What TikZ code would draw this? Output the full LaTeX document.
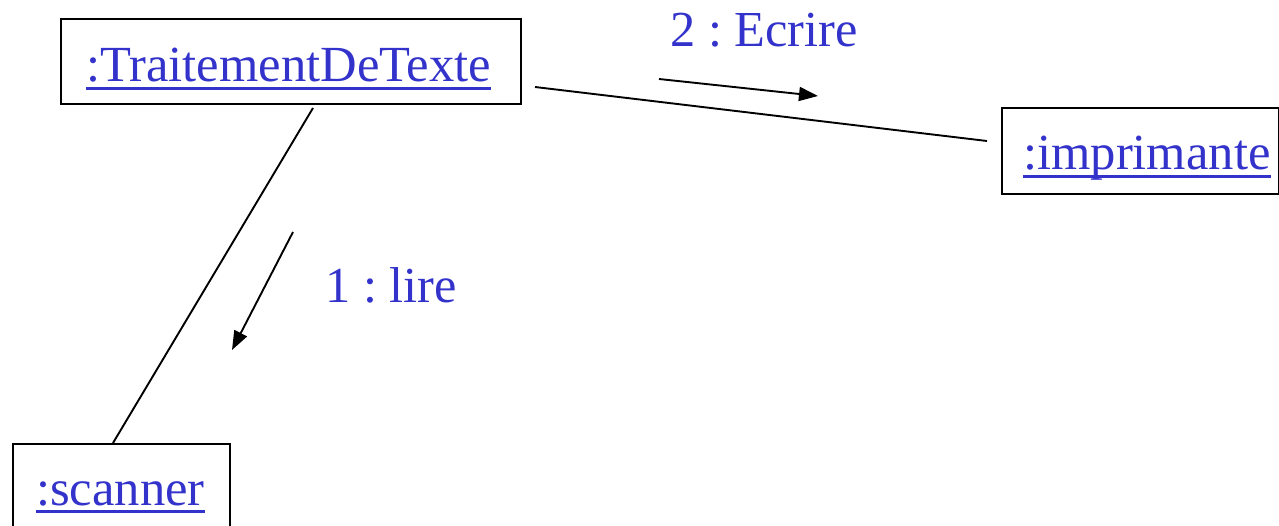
\documentclass[tikz,border=0pt]{standalone}
\usepackage{fontspec}
\setmainfont{Liberation Serif}
\usetikzlibrary{arrows.meta}
\frenchspacing
\definecolor{objblue}{RGB}{51,51,204}
\newcommand\objname[1]{\sbox0{#1}\rlap{\usebox0}\smash{\rule[-8pt]{\wd0}{3pt}}}
\tikzset{
  objbox/.style={draw, line width=2.4pt, inner sep=0pt, anchor=north west},
  objtext/.style={text=objblue, font=\fontsize{50.6}{50}\selectfont, inner sep=0pt, anchor=base west},
  msgtext/.style={text=objblue, font=\fontsize{50.4}{50}\selectfont, inner sep=0pt, anchor=base west},
  link/.style={line width=1.9pt},
  msg/.style={line width=1.9pt, -{Triangle[length=19pt,width=14pt]}}
}
\begin{document}
\begin{tikzpicture}[x=1pt,y=-1pt]
  \useasboundingbox (0,0) rectangle (1279,526);
  \clip (0,0) rectangle (1279,526);
  % object boxes
  \node[objbox, minimum width=460pt, minimum height=85pt] (trait) at (60,18) {};
  \node[objbox, minimum width=277pt, minimum height=86pt] (impr) at (1001,107) {};
  \node[objbox, minimum width=217pt, minimum height=100pt] (scan) at (12,443) {};
  % object names
  \node[objtext] (traitname) at (86,82) {\objname{:TraitementDeTexte}};
  \node[objtext] (imprname) at (1023,170) {\objname{:imprimante}};
  \node[objtext] (scanname) at (36,505) {\objname{:scanner}};
  % link ends
  \coordinate (l1a) at (313,108);
  \coordinate (l1b) at (113,443);
  \coordinate (l2a) at (535,87);
  \coordinate (l2b) at (987,141);
  \draw[link] (l1a) -- (l1b);
  \draw[link] (l2a) -- (l2b);
  % messages
  \coordinate (m1a) at (293,232);
  \coordinate (m1b) at (232,350);
  \coordinate (m2a) at (659,79);
  \coordinate (m2b) at (818,96);
  \draw[msg] (m1a) -- (m1b);
  \draw[msg] (m2a) -- (m2b);
  \node[msgtext] (m1label) at (325,303) {1 : lire};
  \node[msgtext] (m2label) at (670,47) {2 : Ecrire};
\end{tikzpicture}
\end{document}
